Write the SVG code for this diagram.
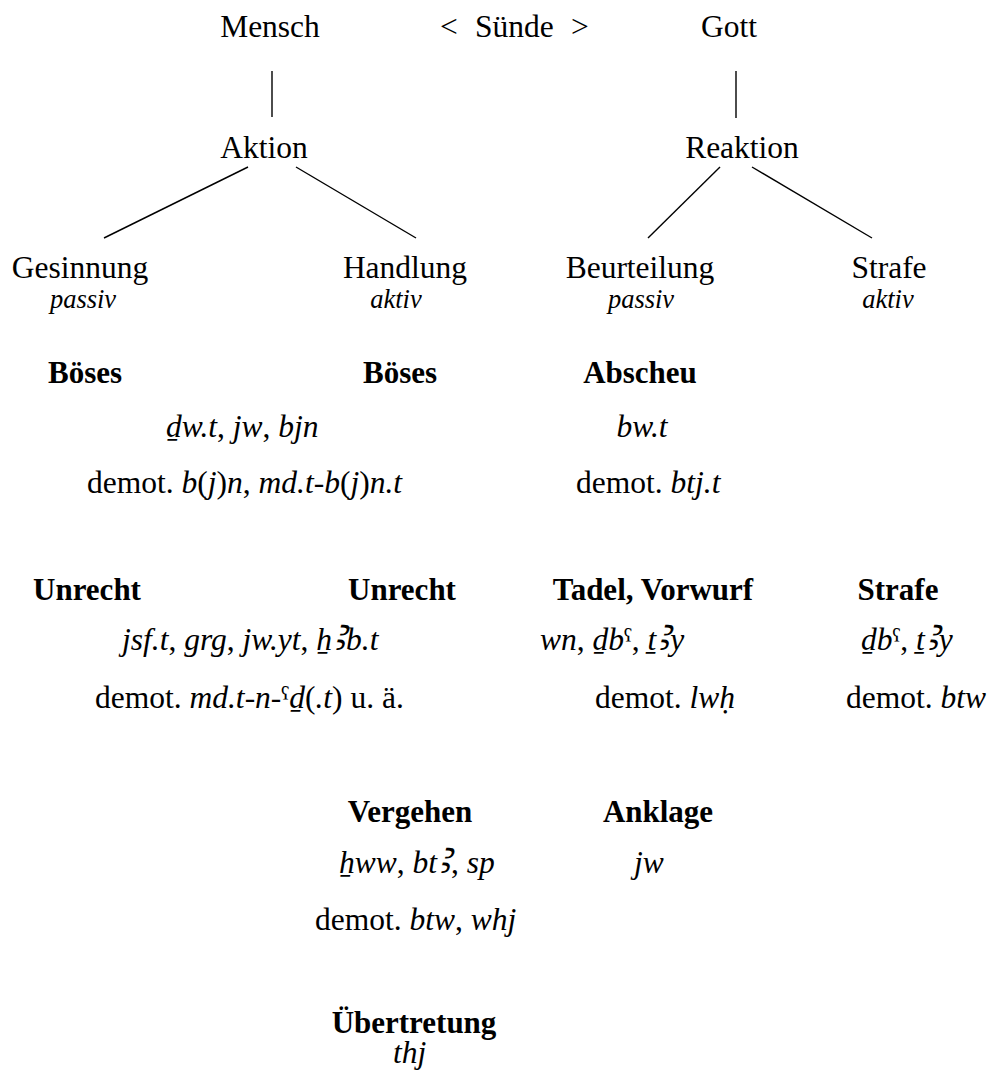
<svg xmlns="http://www.w3.org/2000/svg" width="989" height="1088" viewBox="0 0 989 1088">
  <style>
    text { font-family: 'Liberation Serif', 'Times New Roman', 'DejaVu Serif', serif; fill: #000; }
    .t { font-size: 31.5px; }
    .m { text-anchor: middle; }
    .b { font-size: 31px; font-weight: bold; }
    .i { font-style: italic; }
    .sub { font-size: 26.5px; font-style: italic; }
    .tr { font-size: 31.5px; }
    .al { font-size: 1.35em; }
    .edge { stroke: #000; stroke-width: 1.4; fill: none; }
  </style>
  <rect width="989" height="1088" fill="#fff"/>

  <!-- tree connectors -->
  <g id="connectors">
    <line class="edge" x1="272" y1="71" x2="272" y2="117"/>
    <line class="edge" x1="736" y1="71" x2="736" y2="118"/>
    <line class="edge" x1="248" y1="167" x2="104" y2="238"/>
    <line class="edge" x1="296" y1="167" x2="416" y2="238"/>
    <line class="edge" x1="720" y1="167" x2="648" y2="238"/>
    <line class="edge" x1="752" y1="167" x2="872" y2="238"/>
  </g>

  <!-- top row -->
  <g id="n-mensch"><text class="t m" x="270" y="37">Mensch</text></g>
  <g id="n-suende">
    <text class="t" x="440" y="37">&lt;</text>
    <text class="t" x="475" y="37">Sünde</text>
    <text class="t" x="571" y="37">&gt;</text>
  </g>
  <g id="n-gott"><text class="t m" x="729" y="37">Gott</text></g>

  <!-- second row -->
  <g id="n-aktion"><text class="t m" x="264" y="158">Aktion</text></g>
  <g id="n-reaktion"><text class="t m" x="742" y="158">Reaktion</text></g>

  <!-- leaves -->
  <g id="n-gesinnung">
    <text class="t m" x="80" y="278">Gesinnung</text>
    <text class="sub m" x="83" y="308">passiv</text>
  </g>
  <g id="n-handlung">
    <text class="t m" x="405" y="278">Handlung</text>
    <text class="sub m" x="396" y="308">aktiv</text>
  </g>
  <g id="n-beurteilung">
    <text class="t m" x="640" y="278">Beurteilung</text>
    <text class="sub m" x="641" y="308">passiv</text>
  </g>
  <g id="n-strafe">
    <text class="t m" x="889" y="278">Strafe</text>
    <text class="sub m" x="888" y="308">aktiv</text>
  </g>

  <!-- Böses / Abscheu -->
  <g id="n-boeses-1"><text class="b m" x="85" y="383">Böses</text></g>
  <g id="n-boeses-2"><text class="b m" x="400" y="383">Böses</text></g>
  <g id="n-boeses-terms">
    <text class="tr" x="166" y="437"><tspan class="i">ḏw.t</tspan>, <tspan class="i">jw</tspan>, <tspan class="i">bjn</tspan></text>
    <text class="tr" x="87" y="493">demot. <tspan class="i">b</tspan>(<tspan class="i">j</tspan>)<tspan class="i">n</tspan>, <tspan class="i">md.t-b</tspan>(<tspan class="i">j</tspan>)<tspan class="i">n.t</tspan></text>
  </g>
  <g id="n-abscheu">
    <text class="b m" x="640" y="383">Abscheu</text>
    <text class="tr i m" x="642" y="437">bw.t</text>
    <text class="tr" x="576" y="493">demot. <tspan class="i">btj.t</tspan></text>
  </g>

  <!-- Unrecht / Tadel / Strafe -->
  <g id="n-unrecht-1"><text class="b m" x="87" y="600">Unrecht</text></g>
  <g id="n-unrecht-2"><text class="b m" x="402" y="600">Unrecht</text></g>
  <g id="n-unrecht-terms">
    <text class="tr" x="122" y="650"><tspan class="i">jsf.t</tspan>, <tspan class="i">grg</tspan>, <tspan class="i">jw.yt</tspan>, <tspan class="i">ẖ<tspan class="al">ꜣ</tspan>b.t</tspan></text>
    <text class="tr" x="95" y="708">demot. <tspan class="i">md.t-n-</tspan>ˁ<tspan class="i">ḏ</tspan>(<tspan class="i">.t</tspan>) u. ä.</text>
  </g>
  <g id="n-tadel">
    <text class="b m" x="653" y="600">Tadel, Vorwurf</text>
    <text class="tr" x="540" y="650"><tspan class="i">wn</tspan>, <tspan class="i">ḏb</tspan>ˁ, <tspan class="i">ṯ<tspan class="al">ꜣ</tspan>y</tspan></text>
    <text class="tr" x="595" y="708">demot. <tspan class="i">lwḥ</tspan></text>
  </g>
  <g id="n-strafe-2">
    <text class="b m" x="898" y="600">Strafe</text>
    <text class="tr" x="861" y="650"><tspan class="i">ḏb</tspan>ˁ, <tspan class="i">ṯ<tspan class="al">ꜣ</tspan>y</tspan></text>
    <text class="tr" x="846" y="708">demot. <tspan class="i">btw</tspan></text>
  </g>

  <!-- Vergehen / Anklage -->
  <g id="n-vergehen">
    <text class="b m" x="410" y="822">Vergehen</text>
    <text class="tr" x="339" y="873"><tspan class="i">ẖww</tspan>, <tspan class="i">bt<tspan class="al">ꜣ</tspan></tspan>, <tspan class="i">sp</tspan></text>
    <text class="tr" x="315" y="930">demot. <tspan class="i">btw</tspan>, <tspan class="i">whj</tspan></text>
  </g>
  <g id="n-anklage">
    <text class="b m" x="658" y="822">Anklage</text>
    <text class="tr i" x="634" y="873">jw</text>
  </g>

  <!-- Übertretung -->
  <g id="n-uebertretung">
    <text class="b m" x="414" y="1033">Übertretung</text>
    <text class="tr i" x="393" y="1063">thj</text>
  </g>
</svg>
